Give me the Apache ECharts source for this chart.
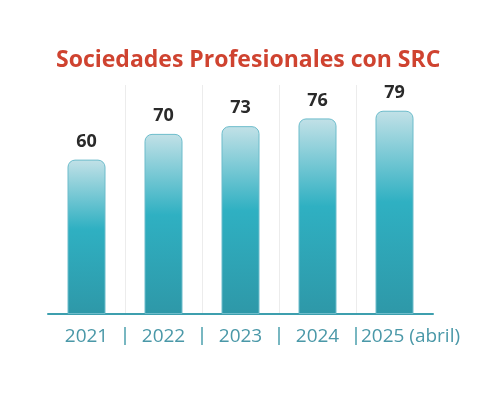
<!DOCTYPE html>
<html><head><meta charset="utf-8">
<script src="https://cdn.jsdelivr.net/npm/echarts@6/dist/echarts.min.js"></script>
<style>html,body{margin:0;padding:0;background:#fff}#c{width:500px;height:394px}</style>
</head><body><div id="c"></div>
<script>
const categories = ['2021', '2022', '2023', '2024', '2025 (abril)'];
const values = [60, 70, 73, 76, 79];
const titleText = 'Sociedades Profesionales con SRC';

const chart = echarts.init(document.getElementById('c'), null, {renderer: 'canvas'});
const sepColors = ['rgba(0,0,0,0)', '#4b9fad', '#4b9fad', '#4b9fad', '#4b9fad', 'rgba(0,0,0,0)'];
const gridColors = ['rgba(0,0,0,0)', '#ececec', '#ececec', '#ececec', '#ececec', 'rgba(0,0,0,0)'];
chart.setOption({
  animation: false,
  title: {
    text: titleText, left: 51, top: 44,
    textStyle: {fontFamily: 'Open Sans', fontWeight: 'bold', fontSize: 23, color: '#cf4330'}
  },
  grid: [
    {left: 48, right: 67, top: 85, bottom: 80},
    {left: 48, right: 67, top: 327, height: 18}
  ],
  xAxis: [{
    type: 'category', data: categories, gridIndex: 0,
    axisLine: {show: true, lineStyle: {color: '#3d9fae', width: 2}},
    axisTick: {show: false, interval: 0},
    splitLine: {show: true, interval: 0, lineStyle: {color: gridColors, width: 1}},
    axisLabel: {
      interval: 0, margin: 13, fontFamily: 'Open Sans', fontSize: 19, color: '#4a98a8',
      formatter: function (v) { return v.indexOf('(') > 0 ? '{s|' + v + '}' : v; },
      rich: {s: {fontFamily: 'Open Sans', fontSize: 19, color: '#4a98a8', padding: [0, 0, 0, 32]}}
    }
  }, {
    type: 'category', data: categories, gridIndex: 1,
    axisLine: {show: false}, axisTick: {show: false, interval: 0},
    axisLabel: {show: false, interval: 0},
    splitLine: {show: true, interval: 0, lineStyle: {color: sepColors, width: 1.5}}
  }],
  yAxis: [{
    type: 'value', min: 0, max: 89, gridIndex: 0, show: false
  }, {
    type: 'value', gridIndex: 1, show: false
  }],
  series: [{
    type: 'bar', data: values, barWidth: 38, xAxisIndex: 0, yAxisIndex: 0,
    itemStyle: {
      borderRadius: [7, 7, 0, 0],
      borderColor: '#6cbccb', borderWidth: 1,
      color: new echarts.graphic.LinearGradient(0, 0, 0, 1, [
        {offset: 0, color: '#c2e1e7'},
        {offset: 0.45, color: '#2fb0c2'},
        {offset: 1, color: '#2e98a8'}
      ])
    },
    label: {
      show: true, position: 'top', distance: 9,
      fontFamily: 'Open Sans', fontWeight: 'bold', fontSize: 18, color: '#2a2a2a'
    }
  }]
});
</script></body></html>
